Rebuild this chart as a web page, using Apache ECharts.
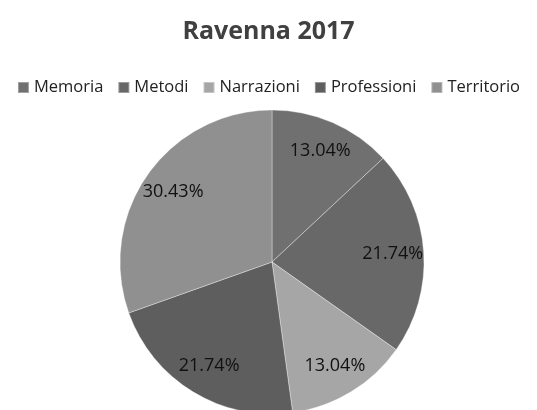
<!DOCTYPE html>
<html>
<head>
<meta charset="utf-8">
<script src="https://cdn.jsdelivr.net/npm/echarts@6/dist/echarts.min.js"></script>
<style>
  html, body { margin: 0; padding: 0; background: #fff; }
  #chart { width: 537px; height: 410px; }
</style>
</head>
<body>
<div id="chart"></div>
<script>
const categories = ['Memoria', 'Metodi', 'Narrazioni', 'Professioni', 'Territorio'];
const counts = [3, 5, 3, 5, 7];
const colors = ['#707070', '#686868', '#a6a6a6', '#5e5e5e', '#909090'];

const total = counts.reduce((a, b) => a + b, 0);
const data = categories.map((name, i) => ({ name, value: counts[i] }));

const chart = echarts.init(document.getElementById('chart'), null, { renderer: 'canvas' });

chart.setOption({
  animation: false,
  color: colors,
  title: {
    text: 'Ravenna 2017',
    left: 'center',
    top: 14,
    textStyle: { fontFamily: 'Open Sans', fontWeight: 'bold', fontSize: 25, color: '#404040' }
  },
  legend: {
    top: 74,
    left: 'center',
    icon: 'rect',
    itemWidth: 11,
    itemHeight: 11,
    itemGap: 14,
    textStyle: { fontFamily: 'Open Sans', fontSize: 16.5, color: '#222' },
    data: categories
  },
  series: [
    {
      type: 'pie',
      center: [272, 262],
      radius: [0, 152],
      startAngle: 90,
      clockwise: true,
      silent: true,
      itemStyle: { borderColor: 'rgba(255,255,255,0.35)', borderWidth: 1 },
      label: { show: false },
      labelLine: { show: false },
      data: data
    },
    {
      // transparent ring used only to place the labels at ~0.77 of the radius
      type: 'pie',
      center: [272, 262],
      radius: [84, 152],
      startAngle: 90,
      clockwise: true,
      silent: true,
      legendHoverLink: false,
      itemStyle: { color: 'rgba(0,0,0,0)', borderWidth: 0 },
      label: {
        show: true,
        position: 'inside',
        fontFamily: 'Open Sans',
        fontSize: 18,
        color: '#111',
        formatter: (p) => (p.value / total * 100).toFixed(2) + '%'
      },
      labelLine: { show: false },
      data: data
    }
  ]
});
</script>
</body>
</html>
